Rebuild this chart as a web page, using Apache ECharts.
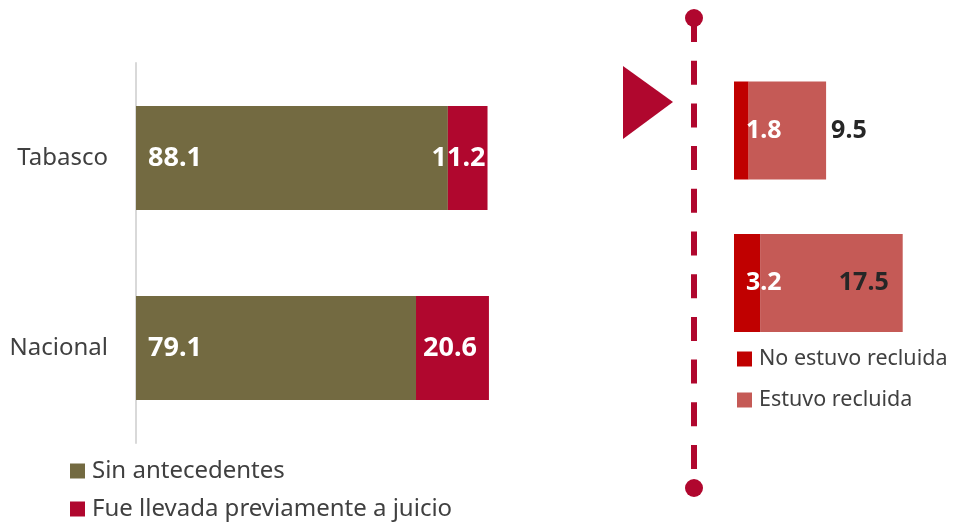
<!DOCTYPE html>
<html>
<head>
<meta charset="utf-8">
<script src="https://cdn.jsdelivr.net/npm/echarts@6/dist/echarts.min.js"></script>
<style>html,body{margin:0;padding:0;background:#fff}#c{width:954px;height:522px}</style>
</head>
<body>
<div id="c"></div>
<script>
// ---- data ----
const categories = ['Tabasco', 'Nacional'];
const sinAntecedentes = [88.1, 79.1];
const fueLlevada = [11.2, 20.6];
const noEstuvoRecluida = [1.8, 3.2];
const estuvoRecluida = [9.5, 17.5];
const leftNames = ['Sin antecedentes', 'Fue llevada previamente a juicio'];
const rightNames = ['No estuvo recluida', 'Estuvo recluida'];

const FONT = '"Noto Sans", sans-serif';
const OLIVE = '#736a41', CRIMSON = '#b0072e', DARKRED = '#c00000', LIGHTRED = '#c55a56';

const chart = echarts.init(document.getElementById('c'));

const fueData = fueLlevada.map((v, i) => ({
  value: v,
  label: { position: 'insideRight', distance: i === 0 ? 2 : 12 }
}));
const estuvoData = estuvoRecluida.map((v, i) => ({
  value: v,
  label: i === 0
    ? { position: 'right', distance: 5 }
    : { position: 'insideRight', distance: 14 }
}));

chart.setOption({
  animation: false,
  textStyle: { fontFamily: FONT },
  grid: [
    { left: 136, top: 63, width: 354, height: 380 },
    { left: 734, top: 54.25, width: 203.75, height: 305 }
  ],
  xAxis: [
    { gridIndex: 0, type: 'value', min: 0, max: 100, show: false },
    { gridIndex: 1, type: 'value', min: 0, max: 25, show: false }
  ],
  yAxis: [
    {
      gridIndex: 0, type: 'category', data: categories, inverse: true,
      axisLine: { show: true, lineStyle: { color: '#d9d9d9', width: 2 } },
      axisTick: { show: false },
      axisLabel: { fontFamily: FONT, fontSize: 24, color: '#404040', margin: 28 }
    },
    {
      gridIndex: 1, type: 'category', data: categories, inverse: true,
      show: false
    }
  ],
  legend: [
    {
      data: leftNames, orient: 'vertical', left: 70, top: 459, height: 120, padding: 0,
      icon: 'rect', itemWidth: 15, itemHeight: 15, itemGap: 14,
      textStyle: { fontFamily: FONT, fontSize: 24, color: '#404040', lineHeight: 24, padding: [0, 0, 0, 2] }
    },
    {
      data: rightNames, orient: 'vertical', left: 737, top: 347, height: 120, padding: 0,
      icon: 'rect', itemWidth: 15, itemHeight: 15, itemGap: 17,
      textStyle: { fontFamily: FONT, fontSize: 21.5, color: '#404040', lineHeight: 24, padding: [0, 0, 0, 2] }
    }
  ],
  series: [
    {
      name: leftNames[0], type: 'bar', stack: 'l', xAxisIndex: 0, yAxisIndex: 0,
      barWidth: 104, data: sinAntecedentes, itemStyle: { color: OLIVE },
      label: { show: true, position: 'insideLeft', distance: 12, color: '#fff', fontWeight: 'bold', fontSize: 27, fontFamily: FONT }
    },
    {
      name: leftNames[1], type: 'bar', stack: 'l', xAxisIndex: 0, yAxisIndex: 0,
      barWidth: 104, data: fueData, itemStyle: { color: CRIMSON },
      label: { show: true, color: '#fff', fontWeight: 'bold', fontSize: 27, fontFamily: FONT }
    },
    {
      name: rightNames[0], type: 'bar', stack: 'r', xAxisIndex: 1, yAxisIndex: 1,
      barWidth: 98, data: noEstuvoRecluida, itemStyle: { color: DARKRED },
      label: { show: true, position: 'insideLeft', distance: 12, color: '#fff', fontWeight: 'bold', fontSize: 25, fontFamily: FONT }
    },
    {
      name: rightNames[1], type: 'bar', stack: 'r', xAxisIndex: 1, yAxisIndex: 1,
      barWidth: 98, data: estuvoData, itemStyle: { color: LIGHTRED },
      label: { show: true, color: '#262626', fontWeight: 'bold', fontSize: 25, fontFamily: FONT }
    }
  ],
  graphic: [
    { type: 'polygon', shape: { points: [[623, 66], [673, 102], [623, 139]] }, style: { fill: CRIMSON } },
    { type: 'line', shape: { x1: 694, y1: 18, x2: 694, y2: 488 }, style: { stroke: CRIMSON, lineWidth: 6, lineDash: [24, 18.7] } },
    { type: 'circle', shape: { cx: 694, cy: 18, r: 9 }, style: { fill: CRIMSON } },
    { type: 'circle', shape: { cx: 694, cy: 488, r: 9 }, style: { fill: CRIMSON } }
  ]
});
</script>
</body>
</html>
